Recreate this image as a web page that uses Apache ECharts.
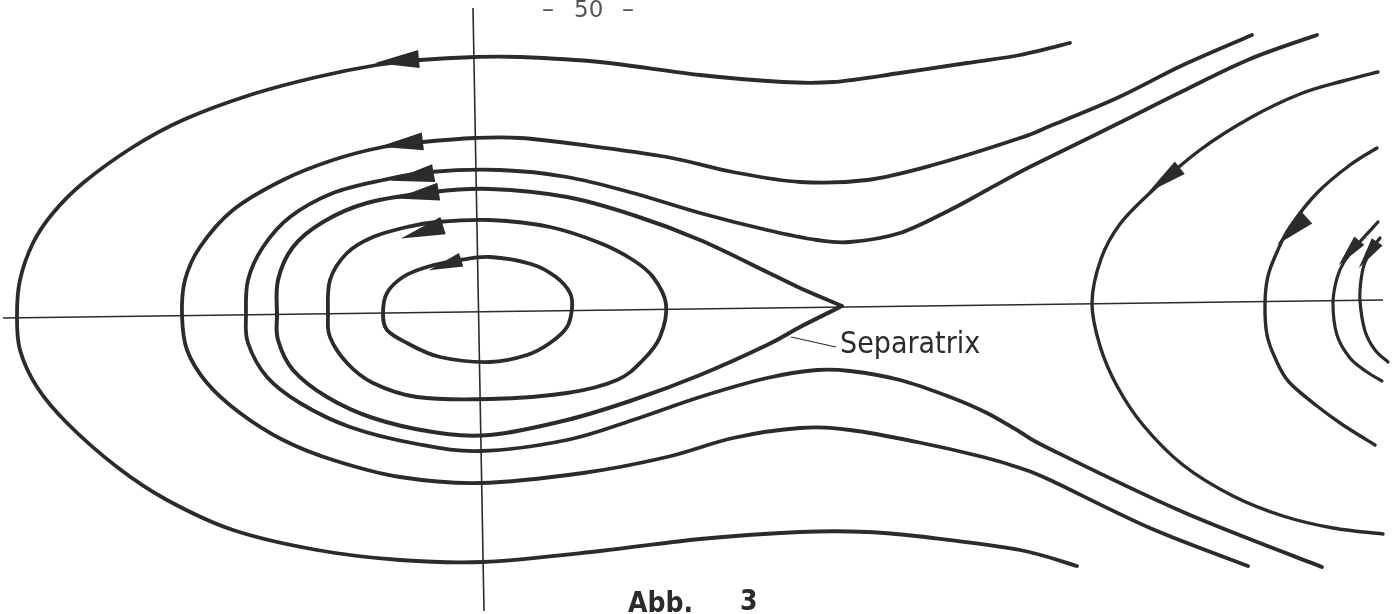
<!DOCTYPE html>
<html>
<head>
<meta charset="utf-8">
<title>Abb. 3 - Separatrix</title>
<script src="https://cdn.jsdelivr.net/npm/echarts@6/dist/echarts.min.js"></script>
<style>
  html, body { margin: 0; padding: 0; background: #fff; }
  #chart { width: 1399px; height: 614px; }
</style>
</head>
<body>
<div id="chart"></div>
<script>
// phase plane, origin at the crossing of the axes (units = scan pixels, y up)
var axisH = [[-477, -7], [903, 11]];
var axisV = [[-7, 303], [4, -300]];

// open curves running round the left side
var curveOuter = [[590, 268], [540, 256], [487, 248], [420, 238], [353, 229], [303, 229], [220, 236], [120, 249], [40, 254], [-5, 254], [-60, 251], [-103, 246], [-163, 234], [-230, 216], [-297, 191], [-347, 164], [-397, 128], [-427, 98], [-447, 68], [-460, 31], [-463, -4], [-460, -39], [-443, -76], [-413, -112], [-363, -156], [-313, -189], [-247, -219], [-163, -239], [-80, -249], [3, -251], [120, -240], [220, -228], [320, -221], [387, -221], [453, -227], [540, -239], [597, -255]];
var curveSecond = [[772, 276], [703, 246], [637, 213], [570, 185], [540, 173], [453, 146], [387, 131], [320, 129], [253, 139], [187, 154], [103, 166], [40, 173], [-5, 173], [-57, 169], [-97, 164], [-147, 151], [-197, 131], [-247, 101], [-280, 64], [-295, 31], [-298, -4], [-293, -39], [-273, -72], [-240, -102], [-197, -129], [-147, -149], [-80, -166], [0, -172], [103, -162], [187, -146], [253, -127], [320, -117], [370, -119], [437, -131], [503, -146], [540, -157], [570, -169], [670, -217], [768, -255]];
var curveThird = [[837, 276], [770, 252], [703, 220], [637, 187], [570, 154], [540, 139], [507, 121], [470, 101], [420, 78], [370, 69], [337, 71], [287, 81], [220, 98], [153, 118], [87, 134], [20, 141], [-50, 139], [-97, 131], [-147, 118], [-190, 94], [-217, 64], [-232, 31], [-234, -4], [-232, -32], [-213, -66], [-180, -92], [-130, -116], [-63, -133], [0, -140], [87, -129], [153, -109], [220, -86], [287, -67], [337, -59], [370, -60], [420, -69], [470, -86], [507, -102], [540, -121], [570, -138], [703, -201], [842, -256]];

// separatrix, starting and ending at its cusp on the axis
var separatrix = [[362, 5], [320, 23], [287, 39], [220, 71], [153, 96], [87, 114], [10, 122], [-47, 119], [-113, 108], [-157, 89], [-187, 64], [-202, 31], [-203, -4], [-202, -29], [-187, -59], [-153, -86], [-107, -107], [-47, -121], [10, -124], [87, -109], [153, -89], [220, -64], [287, -34], [320, -16], [362, 5]];

// closed orbits
var orbitMiddle = [[186, 7], [173, 34], [153, 51], [120, 68], [70, 84], [10, 91], [-43, 89], [-73, 84], [-107, 74], [-133, 58], [-150, 31], [-152, -4], [-150, -26], [-133, -52], [-107, -72], [-63, -86], [10, -88], [87, -82], [137, -69], [163, -49], [180, -26]];
var orbitInner = [[92, 3], [90, 18], [76, 34], [51, 47], [10, 54], [-20, 51], [-53, 44], [-77, 34], [-93, 18], [-97, -2], [-93, -19], [-73, -32], [-40, -46], [10, -51], [47, -44], [70, -32], [87, -16]];

// curves on the right, opening to the right
var hyper1 = [[898, 239], [863, 230], [820, 217], [770, 193], [720, 161], [672, 120], [640, 87], [621, 52], [612, 8], [620, -35], [637, -75], [663, -114], [703, -154], [753, -185], [803, -205], [853, -217], [903, -223]];
var hyper2 = [[897, 163], [870, 146], [837, 118], [810, 84], [797, 59], [788, 35], [785, 8], [787, -24], [796, -49], [809, -71], [837, -95], [863, -114], [895, -134]];
var hyper3 = [[898, 89], [878, 67], [864, 49], [857, 33], [853, 8], [857, -24], [870, -47], [887, -61], [902, -70]];
var hyper4 = [[900, 73], [891, 61], [884, 46], [881, 31], [880, 10], [885, -20], [895, -39], [908, -51]];

// arrow heads: x, y, direction (deg)
var arrowsLeft = [[-83, 250, 95], [-79, 167, 97], [-68, 134, 100], [-63, 116, 99], [-58, 79, 107]];
var arrowsInner = [[-35, 46, 108]];
var arrowsRight = [[684, 131, 128], [812, 80, 132]];
var arrowsRightSmall = [[869, 58, 140], [888, 56, 145]];

var leader = [[311, -26], [356, -36]];

var INK = '#2b2b2b';
var LABEL_FONT = '"Liberation Sans Narrow", "DejaVu Sans Condensed", sans-serif';

// catmull-rom through the pixel points -> svg path
function pathThrough(px, closed) {
  var n = px.length;
  var d = 'M' + px[0][0] + ' ' + px[0][1];
  var segs = closed ? n : n - 1;
  for (var i = 0; i < segs; i++) {
    var p0 = px[closed ? (i - 1 + n) % n : Math.max(i - 1, 0)];
    var p1 = px[i];
    var p2 = px[(i + 1) % n];
    var p3 = px[closed ? (i + 2) % n : Math.min(i + 2, n - 1)];
    var c1x = p1[0] + (p2[0] - p0[0]) / 6, c1y = p1[1] + (p2[1] - p0[1]) / 6;
    var c2x = p2[0] - (p3[0] - p1[0]) / 6, c2y = p2[1] - (p3[1] - p1[1]) / 6;
    d += ' C' + c1x + ' ' + c1y + ' ' + c2x + ' ' + c2y + ' ' + p2[0] + ' ' + p2[1];
  }
  if (closed) d += ' Z';
  return d;
}

function curve(data, width, closed) {
  return {
    type: 'custom',
    coordinateSystem: 'cartesian2d',
    data: data,
    silent: true,
    clip: false,
    renderItem: function (params, api) {
      if (params.dataIndex !== 0) return null;
      var px = data.map(function (p) { return api.coord(p); });
      return {
        type: 'path',
        shape: { pathData: pathThrough(px, closed) },
        style: { fill: null, stroke: INK, lineWidth: width || 3.8, lineCap: 'round', lineJoin: 'miter' }
      };
    }
  };
}
function straight(data, width) {
  return {
    type: 'line',
    data: data,
    symbol: 'none',
    silent: true,
    lineStyle: { color: INK, width: width }
  };
}
function arrows(data, size) {
  return {
    type: 'scatter',
    data: data,
    symbol: 'triangle',
    symbolSize: size,
    symbolRotate: function (val) { return val[2]; },
    itemStyle: { color: INK, opacity: 1 },
    silent: true,
    z: 5
  };
}

var chart = echarts.init(document.getElementById('chart'));
chart.setOption({
  backgroundColor: '#fff',
  animation: false,
  grid: { left: 0, right: 0, top: 0, bottom: 0 },
  xAxis: { type: 'value', min: -480, max: 919, show: false },
  yAxis: { type: 'value', min: -303, max: 311, show: false },
  series: [
    straight(axisH, 1.6),
    straight(axisV, 1.6),
    straight(leader, 1.2),
    curve(curveOuter),
    curve(curveSecond),
    curve(curveThird),
    curve(separatrix, 4),
    curve(orbitMiddle, 3.8, true),
    curve(orbitInner, 3.8, true),
    curve(hyper1, 3.4),
    curve(hyper2, 3.4),
    curve(hyper3, 3.2),
    curve(hyper4, 3.2),
    arrows(arrowsLeft, [18, 44]),
    arrows(arrowsInner, [14, 34]),
    arrows(arrowsRight, [16, 40]),
    arrows(arrowsRightSmall, [13, 32])
  ],
  graphic: [
    { type: 'text', left: 542, top: -1, style: { text: '\u2013', font: '24px "DejaVu Sans"', fill: '#555' } },
    { type: 'text', left: 574, top: 0, style: { text: '50', font: '23px "DejaVu Sans"', fill: '#555' } },
    { type: 'text', left: 622, top: -1, style: { text: '\u2013', font: '24px "DejaVu Sans"', fill: '#555' } },
    { type: 'text', left: 840, top: 330, style: { text: 'Separatrix', font: '30px ' + LABEL_FONT, fill: INK } },
    { type: 'text', left: 628, top: 591, style: { text: 'Abb.', font: 'bold 28px ' + LABEL_FONT, fill: INK } },
    { type: 'text', left: 740, top: 589, style: { text: '3', font: 'bold 28px ' + LABEL_FONT, fill: INK } }
  ]
});
</script>
</body>
</html>
